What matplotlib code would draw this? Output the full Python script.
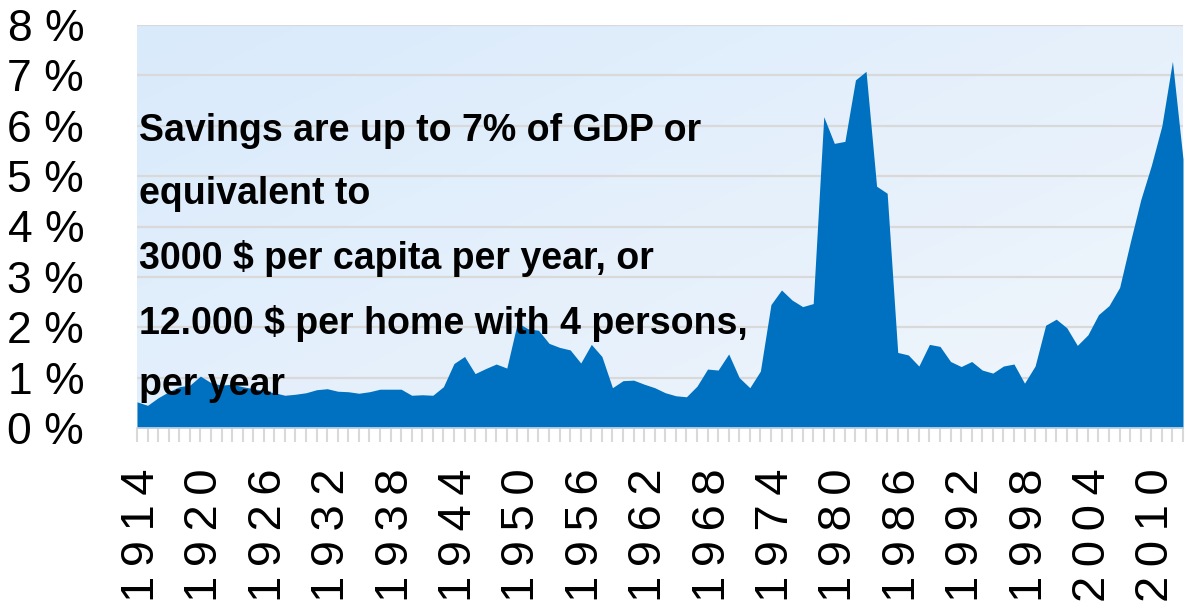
import numpy as np
import matplotlib.pyplot as plt
import matplotlib.transforms as mtransforms
from matplotlib.colors import LinearSegmentedColormap

# -------------------------------
# DATA
# -------------------------------
years = list(range(1914, 2014))
savings_pct = [
    0.52, 0.45, 0.60, 0.72, 0.82, 0.85, 1.03, 0.90, 0.85, 0.87,   # 1914-1923
    0.82, 0.78, 0.74, 0.70, 0.65, 0.67, 0.70, 0.76, 0.78, 0.73,   # 1924-1933
    0.72, 0.69, 0.72, 0.77, 0.77, 0.77, 0.65, 0.66, 0.65, 0.82,   # 1934-1943
    1.28, 1.42, 1.08, 1.18, 1.27, 1.19, 2.09, 1.97, 1.94, 1.68,   # 1944-1953
    1.60, 1.55, 1.29, 1.66, 1.42, 0.80, 0.94, 0.95, 0.87, 0.80,   # 1954-1963
    0.70, 0.64, 0.62, 0.83, 1.17, 1.15, 1.47, 1.00, 0.80, 1.13,   # 1964-1973
    2.45, 2.74, 2.54, 2.41, 2.47, 6.18, 5.65, 5.69, 6.91, 7.08,   # 1974-1983
    4.80, 4.66, 1.50, 1.45, 1.23, 1.66, 1.62, 1.32, 1.22, 1.32,   # 1984-1993
    1.15, 1.09, 1.23, 1.27, 0.89, 1.23, 2.04, 2.16, 1.99, 1.64,   # 1994-2003
    1.85, 2.25, 2.43, 2.79, 3.68, 4.53, 5.21, 6.00, 7.28, 5.34,   # 2004-2013
]
label_years = list(range(1914, 2014, 6))
y_ticks = list(range(0, 9))
y_labels = [f"{v} %" for v in y_ticks]

note_lines = [
    "Savings are up to 7% of GDP or",
    "equivalent to",
    "3000 $ per capita per year, or",
    "12.000 $ per home with 4 persons,",
    "per year",
]
note_y = [5.90, 4.65, 3.37, 2.08, 0.85]

# -------------------------------
# FIGURE
# -------------------------------
plt.rcParams['font.family'] = ['Liberation Sans', 'DejaVu Sans']

fig = plt.figure(figsize=(11.85, 6.02), dpi=100)
ax = fig.add_axes([137 / 1185, 1 - 428 / 602, (1183 - 137) / 1185, (428 - 25) / 602])

# diagonal light-blue gradient behind the plot
cmap = LinearSegmentedColormap.from_list("bg", ["#d9eafb", "#f1f6fc"])
gx, gy = np.meshgrid(np.linspace(0, 1, 200), np.linspace(0, 1, 200))
grad = (gx * 0.55 + gy * 0.45)
ax.imshow(grad, cmap=cmap, extent=[years[0], years[-1], 0, 8],
          aspect='auto', origin='upper', zorder=-2, interpolation='bilinear')

# horizontal gridlines
for v in y_ticks:
    ax.axhline(v, color='#d9d9d9', linewidth=1.6, zorder=-1)

# the savings area
ax.fill_between(years, 0, savings_pct, color='#0070c0', linewidth=0, zorder=2)

# annotation text
for line, yv in zip(note_lines, note_y):
    ax.text(0.002, yv, line, transform=ax.get_yaxis_transform(),
            fontsize=27, fontweight='bold', color='black',
            va='center', ha='left', zorder=3)

# -------------------------------
# AXES
# -------------------------------
ax.set_xlim(years[0], years[-1])
ax.set_ylim(0, 8)

ax.set_yticks(y_ticks)
ax.set_yticklabels(y_labels, fontsize=32)
ax.tick_params(axis='y', length=0, pad=38)

# year labels every 6 years, spaced digits, tick mark every year
ax.set_xticks(years)
ax.set_xticklabels(["\u2009".join(str(y)) if y in label_years else "" for y in years],
                   rotation=90, fontsize=34)
ax.tick_params(axis='x', direction='out', length=10, width=1.5,
               color='#d9d9d9', pad=19)
shift = mtransforms.ScaledTranslation(5 / 100, 0, fig.dpi_scale_trans)
for lbl in ax.get_xticklabels():
    lbl.set_transform(lbl.get_transform() + shift)

for side in ['top', 'right', 'left']:
    ax.spines[side].set_visible(False)
ax.spines['bottom'].set_color('#cfd8e3')
ax.spines['bottom'].set_linewidth(1.2)
ax.spines['bottom'].set_zorder(3)

fig.savefig("out.png", dpi=100)
